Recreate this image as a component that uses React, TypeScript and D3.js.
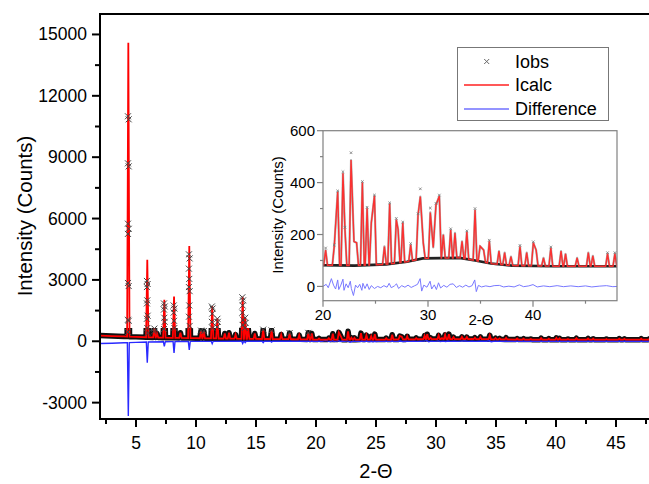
import * as d3 from "d3";

const FONT = '"Liberation Sans", Arial, Helvetica, sans-serif';

// background level of the pattern (2-theta, counts)
const background: [number, number][] = [
  [2, 280], [3, 255], [4, 235], [5, 215], [6, 195], [7, 180], [8, 170], [10, 150],
  [12, 135], [14, 120], [16, 110], [18, 100], [20, 82], [23, 80], [26, 85], [28, 95],
  [29.5, 108], [33, 110], [34.5, 100], [36, 88], [38, 80], [42, 78], [48, 78],
];

// calculated reflections below 20 deg (2-theta, counts)
const lowPeaks: [number, number][] = [
  [4.36, 14600], [5.94, 3980], [6.53, 640], [6.75, 380], [7.36, 2030], [8.17, 2190],
  [8.7, 420], [9.44, 4660], [10.42, 520], [10.65, 500], [11.35, 1720], [11.78, 1130],
  [12.4, 380], [12.75, 420], [13.3, 330], [13.89, 2170], [14.1, 1180], [14.35, 640],
  [14.9, 380], [15.6, 580], [16.3, 550], [17.1, 330], [17.8, 400], [18.6, 300],
  [19.36, 420], [19.65, 380],
];

// calculated reflections 20-48 deg (2-theta, counts)
const insetPeaks: [number, number][] = [
  [20.25, 140], [21.07, 154], [21.4, 365], [21.9, 436], [22.09, 220], [22.67, 487],
  [22.95, 173], [23.2, 168], [23.75, 400], [24.2, 301], [24.6, 245], [24.9, 349],
  [25.85, 154], [26.35, 318], [26.98, 257], [27.15, 220], [27.6, 245], [28.35, 160],
  [29.05, 275], [29.27, 346], [29.55, 168], [30.22, 285], [30.5, 150], [30.76, 314],
  [31.08, 348], [31.46, 199], [32.16, 217], [32.57, 206], [33.24, 174], [33.7, 210],
  [34.48, 294], [34.96, 155], [35.3, 140], [35.84, 174], [36.76, 136], [37.3, 130],
  [37.9, 115], [38.76, 154], [39.4, 130], [40.03, 168], [40.3, 140], [41.0, 110],
  [41.7, 148], [42.67, 136], [43.1, 125], [44.2, 110], [45.27, 130], [45.7, 118],
  [47.1, 126], [47.8, 126],
];

// difference curve below 20 deg: slow baseline and spikes at the strong reflections
const diffLow: [number, number][] = [
  [2, -110], [3, -95], [4, -75], [5, -55], [6, -35], [8, -15], [10, -5], [14, 0], [20, 0],
];
const diffLowSpikes: [number, number][] = [
  [4.36, -3650], [5.94, -1050], [7.36, -250], [8.17, -570], [9.44, -420],
  [11.35, -120], [13.89, -110], [14.1, -60], [15.6, -60], [16.3, -40],
];

// difference curve 20-48 deg (2-theta, counts)
const diffHigh: [number, number][] = [
  [20.0, 0], [20.3, 8], [20.5, -5], [20.8, 30], [21.0, 5], [21.2, -10], [21.4, 25], [21.5, -12],
  [21.7, 5], [21.9, 28], [22.0, -15], [22.2, 10], [22.4, -5], [22.6, 20], [22.7, -8], [22.9, -35],
  [23.1, 5], [23.3, -5], [23.5, 8], [23.7, -15], [23.8, 12], [24.0, -8], [24.2, 10], [24.4, -12],
  [24.6, 3], [24.9, -8], [25.2, 0], [25.5, -5], [25.8, 3], [26.1, -3], [26.3, 12], [26.5, -5],
  [26.8, 2], [27.0, 10], [27.2, -8], [27.5, 3], [27.8, -3], [28.1, 5], [28.4, -4], [28.7, 2],
  [29.0, 8], [29.25, 30], [29.4, -18], [29.6, 5], [29.9, -3], [30.2, 20], [30.35, -10], [30.6, 6],
  [30.8, -12], [31.0, 14], [31.2, -6], [31.5, 4], [31.8, -3], [32.1, 8], [32.4, 10], [32.7, -4],
  [33.0, 3], [33.3, -3], [33.6, 5], [33.9, -2], [34.2, 3], [34.45, 25], [34.6, -20], [34.8, 4],
  [35.1, -2], [35.5, 2], [35.9, -1], [36.3, 3], [36.8, 4], [37.2, -2], [37.7, 1], [38.2, -2],
  [38.7, 6], [39.1, -1], [39.6, 2], [40.0, 7], [40.4, -2], [41.0, 2], [41.6, -1], [42.3, 3],
  [42.9, -1], [43.6, 2], [44.3, -1], [45.0, 2], [45.6, -2], [46.3, 1], [47.0, 3], [47.6, -1], [48, 0],
];

// observed points (crosses) visible on the big peaks of the main plot
const obsMain: [number, number][] = [
  [4.33, 11000], [4.39, 10850], [4.33, 8700], [4.39, 8550], [4.33, 5750], [4.39, 5500],
  [4.33, 5250], [4.33, 2850], [4.39, 2700], [4.33, 1050], [4.39, 1000], [4.33, 450],
  [5.91, 2950], [5.97, 2800], [5.91, 2650], [5.94, 2000], [5.91, 1850], [5.97, 1250],
  [5.91, 1100], [5.94, 650], [5.97, 400], [6.53, 620], [6.5, 480],
  [7.33, 1850], [7.39, 1700], [7.33, 1550], [7.36, 1150], [7.39, 950], [7.33, 600],
  [8.14, 1750], [8.2, 1600], [8.14, 1400], [8.17, 1000], [8.2, 650],
  [9.41, 4250], [9.47, 4050], [9.41, 3550], [9.44, 3050], [9.41, 2650], [9.47, 2450],
  [9.44, 1750], [9.41, 1200], [9.47, 750],
  [11.32, 1700], [11.38, 1600], [11.35, 1350], [11.32, 950], [11.38, 650],
  [11.78, 1100], [11.81, 950], [11.75, 700],
  [13.86, 2150], [13.92, 2000], [13.89, 1750], [13.86, 1400], [13.92, 1050], [13.89, 800],
  [14.1, 1150], [14.13, 900], [14.07, 650],
  [10.42, 520], [10.65, 500], [15.6, 570], [16.3, 530], [17.8, 400], [19.36, 410],
];

// observed points marked at the peak tops in the inset
const obsInset: [number, number][] = [
  [20.25, 148], [21.07, 160], [21.4, 368], [21.9, 442], [22.09, 228], [22.67, 515],
  [23.75, 404], [24.2, 305], [24.9, 352], [26.35, 322], [26.98, 262], [27.6, 248],
  [28.35, 165], [29.05, 280], [29.27, 376], [30.22, 302], [30.76, 320], [31.08, 352],
  [32.16, 222], [33.7, 214], [34.48, 300], [35.84, 178], [38.76, 158], [40.03, 172],
  [41.7, 152], [47.1, 130], [47.8, 130],
];

const mainYTicks = [-3000, 0, 3000, 6000, 9000, 12000, 15000];
const mainYMinor = [-1500, 1500, 4500, 7500, 10500, 13500];
const mainXTicks = [5, 10, 15, 20, 25, 30, 35, 40, 45];
const mainXMinor = [2.5, 7.5, 12.5, 17.5, 22.5, 27.5, 32.5, 37.5, 42.5, 47.5];
const insetYTicks = [0, 200, 400, 600];
const insetYMinor = [100, 300, 500];
const insetXTicks = [20, 30, 40];
const insetXMinor = [25, 35, 45];

const legendItems = ["Iobs", "Icalc", "Difference"];

// spike profile: base line plus a narrow triangle per reflection
function profile(base: [number, number][], peaks: [number, number][], hw: number) {
  const baseAt = d3.scaleLinear().domain(base.map((d) => d[0])).range(base.map((d) => d[1]));
  const inside = (x: number, skip: number) =>
    peaks.some(([p], j) => j !== skip && x > p - hw && x < p + hw);
  const pts: [number, number][] = [];
  base.forEach(([x, v]) => {
    if (!peaks.some(([p]) => Math.abs(x - p) < hw)) pts.push([x, v]);
  });
  peaks.forEach(([p, h], i) => {
    if (!inside(p - hw, i)) pts.push([p - hw, baseAt(p - hw)]);
    pts.push([p, h]);
    if (!inside(p + hw, i)) pts.push([p + hw, baseAt(p + hw)]);
  });
  return pts.sort((a, b) => a[0] - b[0]);
}

const cross = (s: number) => `M${-s},${-s}L${s},${s}M${-s},${s}L${s},${-s}`;

export default function App() {
  const W = 649, H = 484;

  // main plot
  const x = d3.scaleLinear().domain([2, 48]).range([100, 652]);
  const y = d3.scaleLinear().domain([-3800, 16000]).range([419, 14]);
  // inset
  const xi = d3.scaleLinear().domain([20, 48]).range([323, 617]);
  const yi = d3.scaleLinear().domain([-55, 600]).range([300.7, 130.7]);

  const allPeaks = [...lowPeaks, ...insetPeaks];
  const calcMain = profile(background, allPeaks, 0.1);
  const diffMain = [...profile(diffLow, diffLowSpikes, 0.08).filter((d) => d[0] < 20), ...diffHigh];
  const calcInset = profile(background, insetPeaks, 0.18).filter((d) => d[0] >= 19.5);
  const baseInset = background.filter((d) => d[0] >= 18);

  const lineMain = d3.line<[number, number]>().x((d) => x(d[0])).y((d) => y(d[1]));
  const lineInset = d3.line<[number, number]>().x((d) => xi(d[0])).y((d) => yi(d[1]));

  return (
    <svg width={W} height={H} style={{ display: "block", position: "absolute", left: 0, top: 0 }}
      fontFamily={FONT}>
      <defs>
        <clipPath id="plotClip">
          <rect x={100} y={14} width={W - 100} height={405} />
        </clipPath>
        <clipPath id="bandClip">
          <rect x={100} y={y(650)} width={W - 100} height={419 - y(650)} />
        </clipPath>
        <clipPath id="insetClip">
          <rect x={323} y={130.7} width={294} height={170} />
        </clipPath>
      </defs>
      <rect width={W} height={H} fill="#fff" />

      {/* main data */}
      <g clipPath="url(#plotClip)">
        <g clipPath="url(#bandClip)">
          <path d={lineMain(calcMain) ?? ""} fill="none" stroke="#111" strokeWidth={5.5} strokeLinejoin="round" />
        </g>
        <path d={lineMain(diffMain) ?? ""} fill="none" stroke="#2a2aff" strokeWidth={1.4} />
        <path d={lineMain(calcMain) ?? ""} fill="none" stroke="#ff0000" strokeWidth={1.8} />
        {obsMain.map((d, i) => (
          <path key={i} d={cross(3)} transform={`translate(${x(d[0])},${y(d[1])})`}
            stroke="#444" strokeWidth={1} fill="none" />
        ))}
      </g>

      {/* main frame and axes */}
      <g stroke="#000" strokeWidth={2} fill="none">
        <line x1={100} x2={W} y1={14} y2={14} />
        <line x1={100} x2={100} y1={13} y2={420} />
        <line x1={99} x2={W} y1={419} y2={419} />
        {mainYTicks.map((t) => <line key={t} x1={92} x2={100} y1={y(t)} y2={y(t)} />)}
        {mainYMinor.map((t) => <line key={t} x1={95} x2={100} y1={y(t)} y2={y(t)} />)}
        {mainXTicks.map((t) => <line key={t} x1={x(t)} x2={x(t)} y1={419} y2={427} />)}
        {mainXMinor.map((t) => <line key={t} x1={x(t)} x2={x(t)} y1={419} y2={424} />)}
      </g>
      <g fontSize={17.5} fill="#000">
        {mainYTicks.map((t) => (
          <text key={t} x={87} y={y(t)} textAnchor="end" dominantBaseline="central">{t}</text>
        ))}
        {mainXTicks.map((t) => (
          <text key={t} x={x(t)} y={449} textAnchor="middle">{t}</text>
        ))}
      </g>
      <text transform="translate(24,216) rotate(-90)" textAnchor="middle" dominantBaseline="central"
        fontSize={20.5}>Intensity (Counts)</text>
      <text x={376} y={478} textAnchor="middle" fontSize={20}>2-Θ</text>

      {/* legend */}
      <rect x={457.5} y={47.5} width={151} height={73} fill="#fff" stroke="#777" strokeWidth={1} />
      <path d={cross(2.5)} transform="translate(486.7,61.5)" stroke="#666" strokeWidth={1} />
      <line x1={464} x2={509} y1={85} y2={85} stroke="#ff2020" strokeWidth={1.3} />
      <line x1={464} x2={509} y1={109} y2={109} stroke="#7070ff" strokeWidth={1.3} />
      {legendItems.map((s, i) => (
        <text key={s} x={515} y={61.5 + i * 23.8} dominantBaseline="central" fontSize={18}>{s}</text>
      ))}

      {/* inset */}
      <rect x={323} y={130.7} width={294} height={170} fill="#fff" />
      <g clipPath="url(#insetClip)">
        <path d={lineInset(diffHigh) ?? ""} fill="none" stroke="#7878ff" strokeWidth={1} />
        <path d={lineInset(baseInset) ?? ""} fill="none" stroke="#222" strokeWidth={2.6} />
        <path d={lineInset(calcInset) ?? ""} fill="none" stroke="#555" strokeWidth={2.2} strokeOpacity={0.45}
          strokeLinejoin="round" />
        <path d={lineInset(calcInset) ?? ""} fill="none" stroke="#ff2a2a" strokeWidth={1.4} strokeOpacity={0.95} />
        {obsInset.map((d, i) => (
          <path key={i} d={cross(1.3)} transform={`translate(${xi(d[0])},${yi(d[1])})`}
            stroke="#777" strokeWidth={0.8} fill="none" />
        ))}
      </g>
      <g stroke="#808080" strokeWidth={1.2} fill="none">
        <rect x={323} y={130.7} width={294} height={170} />
        {insetYTicks.map((t) => <line key={t} x1={317} x2={323} y1={yi(t)} y2={yi(t)} />)}
        {insetYMinor.map((t) => <line key={t} x1={320} x2={323} y1={yi(t)} y2={yi(t)} />)}
        {insetXTicks.map((t) => <line key={t} x1={xi(t)} x2={xi(t)} y1={300.7} y2={306.7} />)}
        {insetXMinor.map((t) => <line key={t} x1={xi(t)} x2={xi(t)} y1={300.7} y2={303.7} />)}
      </g>
      <g fontSize={15} fill="#000">
        {insetYTicks.map((t) => (
          <text key={t} x={315} y={yi(t)} textAnchor="end" dominantBaseline="central">{t}</text>
        ))}
        {insetXTicks.map((t) => (
          <text key={t} x={xi(t)} y={320} textAnchor="middle">{t}</text>
        ))}
      </g>
      <text transform="translate(277,215) rotate(-90)" textAnchor="middle" dominantBaseline="central"
        fontSize={15}>Intensity (Counts)</text>
      <text x={481} y={325} textAnchor="middle" fontSize={15}>2-Θ</text>
    </svg>
  );
}
